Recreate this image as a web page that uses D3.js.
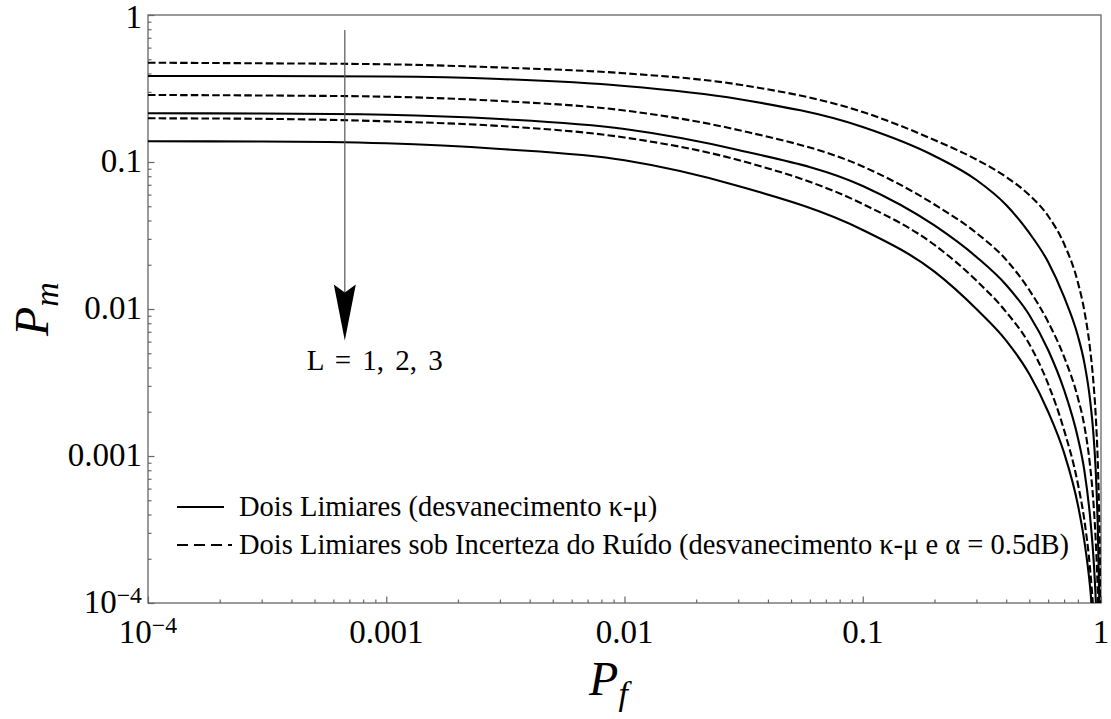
<!DOCTYPE html>
<html>
<head>
<meta charset="utf-8">
<script src="https://cdn.jsdelivr.net/npm/d3@7"></script>
<style>
  body { margin: 0; background: #fff; }
  text { font-family: "Liberation Serif", "Times New Roman", serif; fill: #000; }
</style>
</head>
<body>
<div id="graph"></div>
<script>
// Probability of false alarm grid (shared by all curves)
const pfGrid = [1e-4, 3e-4, 1e-3, 3e-3, 0.01, 0.03, 0.1, 0.2, 0.3, 0.4, 0.5, 0.6, 0.7, 0.8, 0.85, 0.9, 0.93, 0.95, 0.97, 0.98, 0.99, 0.995, 0.998];

// Solid curves: Dois Limiares, L = 1, 2, 3
const pmSolidL1 = [0.3846, 0.3846, 0.3816, 0.367, 0.3289, 0.2683, 0.173, 0.1099, 0.0754, 0.051, 0.0329, 0.0209, 0.01207, 0.00655, 0.00436, 0.0024, 0.00139, 0.000803, 0.000314, 0.000143, 0.0000479, 0.000016, 0.0000046];
const pmSolidL2 = [0.2145, 0.2138, 0.2098, 0.1961, 0.1677, 0.1207, 0.0687, 0.037, 0.0226, 0.01456, 0.0091, 0.00526, 0.00281, 0.001326, 0.00081, 0.000385, 0.000202, 0.000108, 0.0000443, 0.0000219, 0.0000086, 0.0000033, 0.00000095];
const pmSolidL3 = [0.1383, 0.1379, 0.134, 0.1226, 0.1027, 0.0687, 0.0345, 0.01796, 0.01, 0.0061, 0.00361, 0.002, 0.00105, 0.000464, 0.000268, 0.000128, 0.0000676, 0.000041, 0.000016, 0.0000073, 0.0000029, 0.0000011, 0.00000037];

// Dashed curves: with noise uncertainty (alpha = 0.5dB), L = 1, 2, 3
const pmDashedL1 = [0.4737, 0.4692, 0.462, 0.4394, 0.4013, 0.3367, 0.2189, 0.1411, 0.104, 0.0791, 0.0596, 0.0429, 0.0277, 0.01515, 0.00985, 0.00534, 0.00314, 0.0019, 0.000882, 0.000479, 0.00017, 0.0000596, 0.0000153];
const pmDashedL2 = [0.2857, 0.2835, 0.2781, 0.26, 0.224, 0.1651, 0.0932, 0.0514, 0.0329, 0.0216, 0.01346, 0.00816, 0.00472, 0.00248, 0.00163, 0.000855, 0.000479, 0.000268, 0.000113, 0.000056, 0.0000219, 0.0000086, 0.0000025];
const pmDashedL3 = [0.1983, 0.1967, 0.1891, 0.1758, 0.1468, 0.1032, 0.0518, 0.0273, 0.0156, 0.00954, 0.00578, 0.00309, 0.0015, 0.000645, 0.000373, 0.00017, 0.0000855, 0.0000479, 0.0000187, 0.0000086, 0.0000033, 0.0000013, 0.00000044];

// Tick values
const majorTicks = [1e-4, 1e-3, 1e-2, 1e-1, 1];
const xTickLabels = ["10^-4", "0.001", "0.01", "0.1", "1"];
const yTickLabels = ["10^-4", "0.001", "0.01", "0.1", "1"];

const legendLabels = [
  "Dois Limiares (desvanecimento \u03ba-\u03bc)",
  "Dois Limiares sob Incerteza do Ru\u00eddo (desvanecimento \u03ba-\u03bc e \u03b1 = 0.5dB)"
];

const W = 1111, H = 719;
const margin = { left: 148, top: 15, right: 10, bottom: 116 };
const width = W - margin.left - margin.right;
const height = H - margin.top - margin.bottom;
const serif = "Liberation Serif, Times New Roman, serif";

const svg = d3.select("#graph").append("svg")
  .attr("width", W).attr("height", H);

const g = svg.append("g")
  .attr("transform", "translate(" + margin.left + "," + margin.top + ")");

const x = d3.scaleLog().domain([1e-4, 1]).range([0, width]);
const y = d3.scaleLog().domain([1e-4, 1]).range([height, 0]);

// minor ticks 2..9 in each decade
const minorTicks = [];
for (let e = -4; e < 0; e++) {
  for (let m = 2; m <= 9; m++) minorTicks.push(m * Math.pow(10, e));
}

const axisColor = "#666";

// frame
g.append("rect")
  .attr("width", width).attr("height", height)
  .attr("fill", "none").attr("stroke", axisColor).attr("stroke-width", 1.3);

// axes with inward ticks
const xMinor = g.append("g").attr("transform", "translate(0," + height + ")")
  .call(d3.axisBottom(x).tickValues(minorTicks).tickSize(-3.5).tickFormat(""));
const xMajor = g.append("g").attr("transform", "translate(0," + height + ")")
  .call(d3.axisBottom(x).tickValues(majorTicks).tickSize(-6.5).tickFormat(""));
const yMinor = g.append("g")
  .call(d3.axisLeft(y).tickValues(minorTicks).tickSize(-3.5).tickFormat(""));
const yMajor = g.append("g")
  .call(d3.axisLeft(y).tickValues(majorTicks).tickSize(-6.5).tickFormat(""));

[xMinor, xMajor, yMinor, yMajor].forEach(a => {
  a.select(".domain").remove();
  a.selectAll(".tick line").attr("stroke", axisColor).attr("stroke-width", 1.2);
});

// tick labels (handle 10^-4 with a superscript)
function writeLabel(sel, label) {
  if (label.indexOf("^") >= 0) {
    const parts = label.split("^");
    sel.append("tspan").text(parts[0]);
    sel.append("tspan").attr("dy", "-0.42em").attr("font-size", "0.72em")
      .text(parts[1].replace("-", "\u2212"));
  } else {
    sel.text(label);
  }
}

const tickFont = 33;
majorTicks.forEach((v, i) => {
  const t = g.append("text")
    .attr("x", x(v)).attr("y", height + 40)
    .attr("text-anchor", "middle")
    .attr("font-family", serif)
    .attr("font-size", tickFont);
  writeLabel(t, xTickLabels[i]);
});
majorTicks.forEach((v, i) => {
  const t = g.append("text")
    .attr("x", -6).attr("y", y(v) + (v === 1 ? 13 : 10))
    .attr("text-anchor", "end")
    .attr("font-family", serif)
    .attr("font-size", tickFont);
  writeLabel(t, yTickLabels[i]);
});

// axis titles
const yTitle = svg.append("text")
  .attr("transform", "translate(48," + (margin.top + height / 2) + ") rotate(-90)")
  .attr("text-anchor", "middle")
  .attr("font-family", serif)
  .attr("font-size", 48)
  .attr("font-style", "italic");
yTitle.append("tspan").text("P");
yTitle.append("tspan").attr("dy", 10).attr("font-size", 34).text("m");

const xTitle = svg.append("text")
  .attr("x", margin.left + width / 2 - 16).attr("y", 695)
  .attr("text-anchor", "middle")
  .attr("font-family", serif)
  .attr("font-size", 48)
  .attr("font-style", "italic");
xTitle.append("tspan").text("P");
xTitle.append("tspan").attr("dy", 10).attr("font-size", 34).text("f");

// curves
svg.append("clipPath").attr("id", "plotclip")
  .append("rect").attr("x", -2).attr("y", 0).attr("width", width + 2).attr("height", height);

const line = d3.line()
  .x(d => x(d[0]))
  .y(d => y(d[1]))
  .curve(d3.curveMonotoneX);

const series = [
  { pm: pmDashedL1, dashed: true },
  { pm: pmSolidL1, dashed: false },
  { pm: pmDashedL2, dashed: true },
  { pm: pmSolidL2, dashed: false },
  { pm: pmDashedL3, dashed: true },
  { pm: pmSolidL3, dashed: false }
];

const curves = g.append("g").attr("clip-path", "url(#plotclip)");
series.forEach(s => {
  curves.append("path")
    .datum(pfGrid.map((pf, i) => [pf, s.pm[i]]))
    .attr("d", line)
    .attr("fill", "none")
    .attr("stroke", "#000")
    .attr("stroke-width", 2.1)
    .attr("stroke-dasharray", s.dashed ? "7.5,3.2" : null);
});

// arrow L = 1, 2, 3
const arrowPf = 6.7e-4;
const ax = x(arrowPf);
g.append("line")
  .attr("x1", ax).attr("x2", ax)
  .attr("y1", y(0.79)).attr("y2", y(0.012))
  .attr("stroke", "#555").attr("stroke-width", 1.2);
const tipY = y(0.0061), headY = y(0.0147);
g.append("path")
  .attr("d", "M" + (ax - 11) + "," + headY + " L" + ax + "," + (headY + 8) + " L" + (ax + 11) + "," + headY + " L" + ax + "," + tipY + " Z")
  .attr("fill", "#000");
g.append("text")
  .attr("x", ax - 38).attr("y", tipY + 29)
  .attr("font-family", serif)
  .attr("font-size", 29)
  .attr("word-spacing", 4)
  .text("L = 1, 2, 3");

// legend
const legend = g.append("g");
[0, 1].forEach(i => {
  const ly = 492 + i * 38;
  legend.append("line")
    .attr("x1", 29).attr("x2", i === 1 ? 84 : 76)
    .attr("y1", ly).attr("y2", ly)
    .attr("stroke", "#000").attr("stroke-width", 2.2)
    .attr("stroke-dasharray", i === 1 ? "11,6" : null);
  legend.append("text")
    .attr("x", 91).attr("y", ly + 9)
    .attr("font-family", serif)
    .attr("font-size", 28.5)
    .text(legendLabels[i]);
});
</script>
</body>
</html>
